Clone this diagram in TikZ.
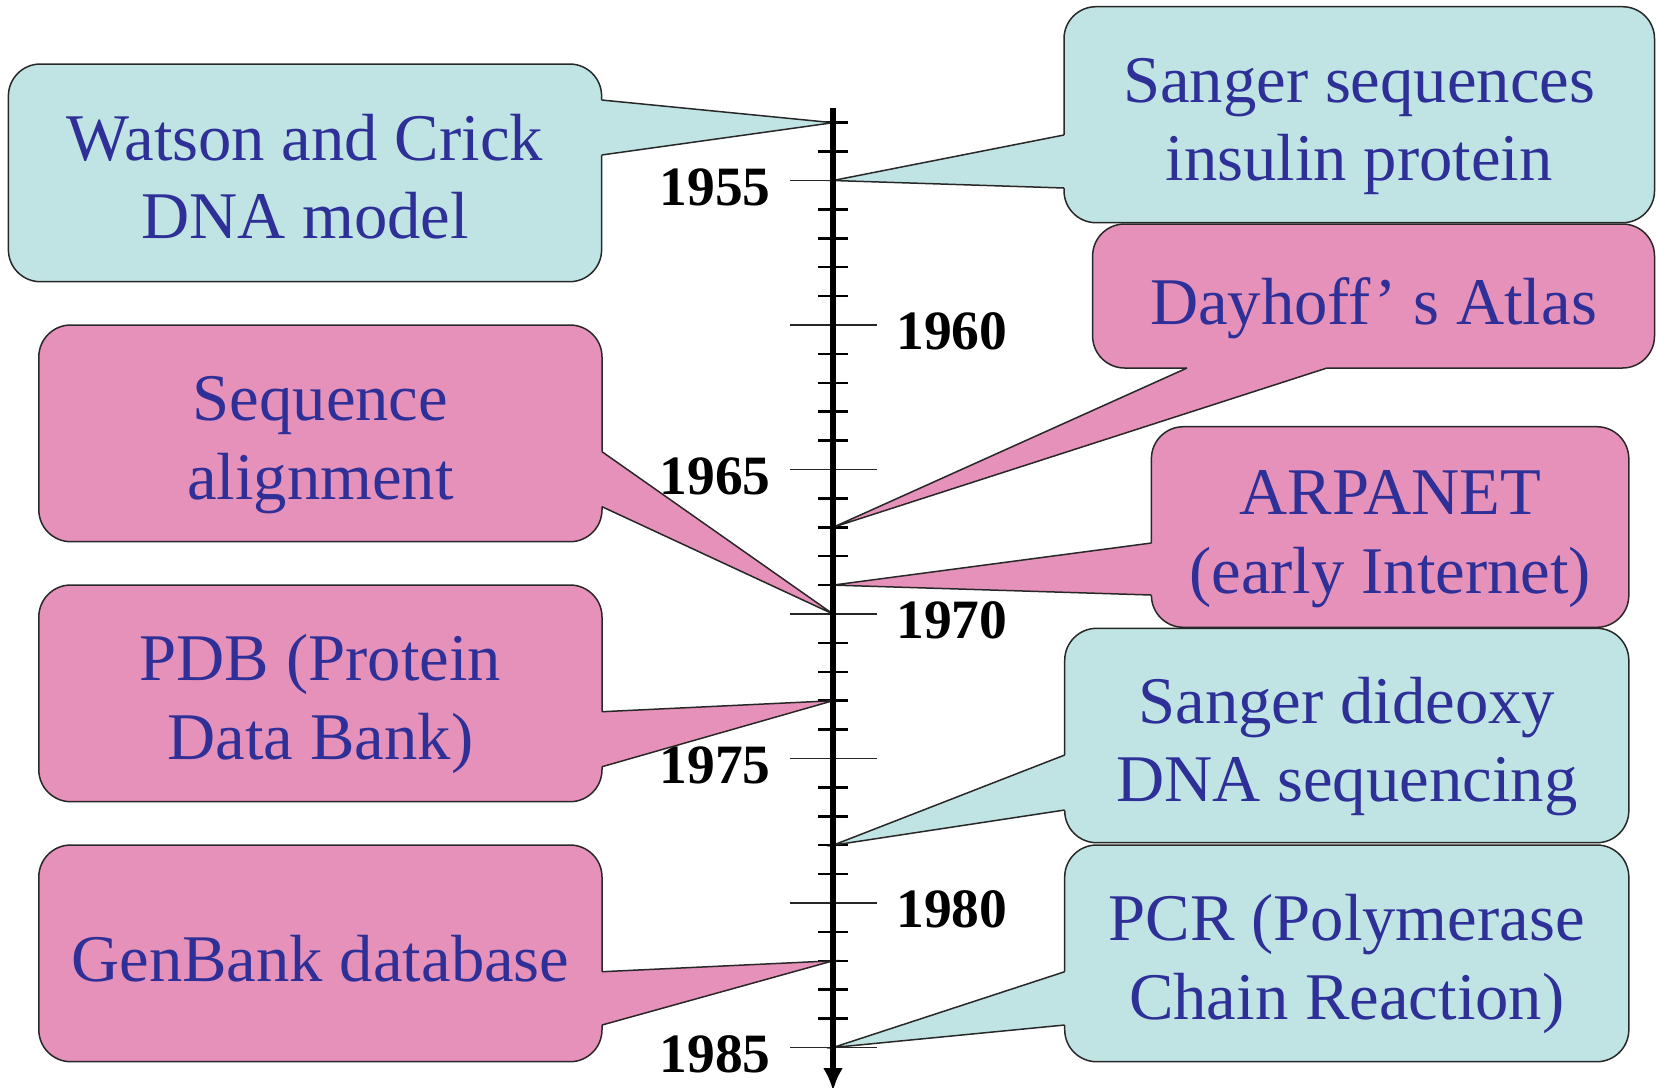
\documentclass[tikz,border=0pt]{standalone}
\usepackage{fontspec}
\setmainfont{Liberation Serif}
\usetikzlibrary{arrows.meta,calc}
\definecolor{cfill}{RGB}{192,228,228}
\definecolor{pfill}{RGB}{230,145,185}
\definecolor{txtblue}{RGB}{46,48,152}
\definecolor{edgec}{RGB}{40,40,40}
\newcommand\twol[2]{\begin{tabular}[t]{@{}c@{}}#1\\#2\end{tabular}}
\newcommand\callwedge[5]{%
  \fill[#1] ($#2+#5$) -- #2 -- (#3) -- #4 -- ($#4+#5$) -- cycle;
  \draw[edgeline] #2 -- (#3) -- #4;}
\begin{document}
\begin{tikzpicture}[x=0.5pt,y=-0.5pt,
  edgeline/.style={draw=edgec, line width=0.75pt, line join=miter},
  cbox/.style={draw=edgec, line width=0.75pt, rounded corners=16pt, inner sep=0pt,
    text=txtblue, font=\fontsize{33.35}{39.2}\selectfont},
  oneline/.style={text height=28pt, text depth=0pt},
  twoline/.style={text height=0pt, text depth=12.4pt},
  minortick/.style={line width=1.25pt, black},
  majortick/.style={line width=0.8pt, black!85},
  yearlab/.style={font=\bfseries\fontsize{27.75}{30}\selectfont, inner sep=0pt}
]
\useasboundingbox (0,0) rectangle (1657,1087);

% tick coordinates
\foreach \yr in {1953,...,1985}{
  \coordinate (t\yr) at (833,{180.5+(\yr-1955)*28.9});
}
\coordinate (axtop) at (833,108);
\coordinate (axbot) at (833,1091);

% ticks
\foreach \yr in {1953,1954,1956,1957,1958,1959,1961,1962,1963,1964,1966,1967,1968,1969,1971,1972,1973,1974,1976,1977,1978,1979,1981,1982,1983,1984}{
  \draw[minortick] ($(t\yr)+(-15,0)$) -- ($(t\yr)+(15,0)$);
}
\foreach \yr in {1955,1960,...,1985}{
  \draw[majortick] ($(t\yr)+(-43,0)$) -- ($(t\yr)+(44,0)$);
}

% year labels
\foreach \yr in {1955,1965,1975,1985}{
  \node[yearlab, anchor=base east] (lab\yr) at ($(t\yr)+(-62,24.5)$) {\yr};
}
\foreach \yr in {1960,1970,1980}{
  \node[yearlab, anchor=base west] (lab\yr) at ($(t\yr)+(63,24.5)$) {\yr};
}

% callout boxes
\node[cbox, twoline, fill=cfill, minimum width=296.6pt, minimum height=108.85pt] (watson) at (305,172.85) {\twol{Watson and Crick}{DNA model}};
\callwedge{cfill}{(601.6,100)}{t1953}{(601.6,155)}{(-5,0)}

\node[cbox, twoline, fill=cfill, minimum width=295.25pt, minimum height=108pt] (sangerseq) at (1359.25,114.7) {\twol{Sanger sequences}{insulin protein}};
\callwedge{cfill}{(1064,135)}{t1955}{(1064,188)}{(5,0)}

\node[cbox, oneline, fill=pfill, minimum width=280.95pt, minimum height=72pt] (dayhoff) at (1373.55,296) {Dayhoff’ s Atlas};
\callwedge{pfill}{(1187,368)}{t1967}{(1327,368)}{(0,-5)}

\node[cbox, twoline, fill=pfill, minimum width=281.6pt, minimum height=108.35pt] (seqalign) at (320.4,433.35) {\twol{Sequence}{alignment}};
\callwedge{pfill}{(602,451.7)}{t1970}{(602,506.7)}{(-5,0)}

\node[cbox, twoline, fill=pfill, minimum width=238.7pt, minimum height=100.3pt] (arpanet) at (1390.1,527) {\twol{ARPANET}{(early Internet)}};
\callwedge{pfill}{(1151.4,543)}{t1969}{(1151.4,595)}{(5,0)}

\node[cbox, twoline, fill=pfill, minimum width=281.6pt, minimum height=108.35pt] (pdb) at (320.4,693.35) {\twol{PDB (Protein}{Data Bank)}};
\callwedge{pfill}{(602,711.7)}{t1973}{(602,766.7)}{(-5,0)}

\node[cbox, twoline, fill=cfill, minimum width=282.05pt, minimum height=107.2pt] (dideoxy) at (1346.75,735.5) {\twol{Sanger dideoxy}{DNA sequencing}};
\callwedge{cfill}{(1064.7,755)}{t1978}{(1064.7,810)}{(5,0)}

\node[cbox, oneline, fill=pfill, minimum width=281.6pt, minimum height=108.35pt] (genbank) at (320.4,953.35) {GenBank database};
\callwedge{pfill}{(602,971.7)}{t1982}{(602,1025)}{(-5,0)}

\node[cbox, twoline, fill=cfill, minimum width=282.05pt, minimum height=108.35pt] (pcr) at (1346.75,953.35) {\twol{PCR (Polymerase}{Chain Reaction)}};
\callwedge{cfill}{(1064.7,971.7)}{t1985}{(1064.7,1025)}{(5,0)}

% axis
\draw[line width=3pt, -{Latex[length=11.5pt,width=10pt]}] (axtop) -- (axbot);
\end{tikzpicture}
\end{document}
